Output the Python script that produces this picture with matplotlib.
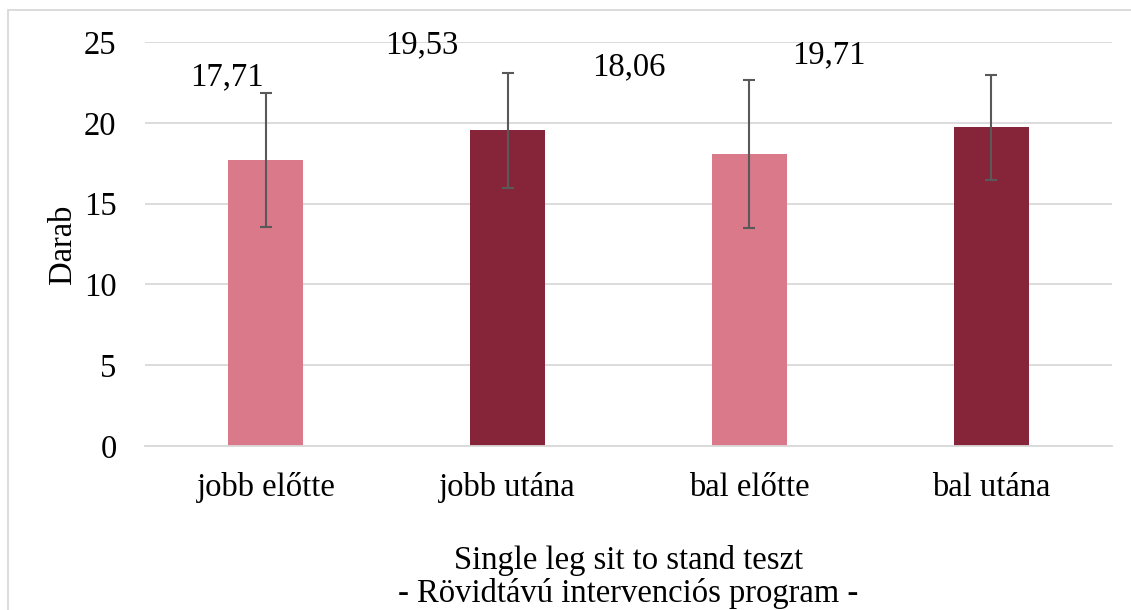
import matplotlib.pyplot as plt
from matplotlib.patches import Rectangle

categories = ["jobb előtte", "jobb utána", "bal előtte", "bal utána"]
values = [17.71, 19.53, 18.06, 19.71]
errors = [4.15, 3.55, 4.6, 3.25]
labels = ["17,71", "19,53", "18,06", "19,71"]
# manually placed value labels (x offset in category units, y in data units)
label_dx = [-0.16, -0.355, -0.5, -0.67]
label_y = [22.85, 24.8, 23.45, 24.2]
colors = ["#D9798A", "#86253A", "#D9798A", "#86253A"]

plt.rcParams['font.family'] = ['Liberation Serif', 'DejaVu Serif']
fs = 23.5

fig = plt.figure(figsize=(11.31, 6.10), dpi=100)
ax = fig.add_axes([145 / 1131, 1 - 446 / 610, 967 / 1131, 404 / 610])

x = range(len(categories))
ax.bar(x, values, width=0.31, color=colors, zorder=2)
ax.errorbar(x, values, yerr=errors, fmt='none', ecolor='#595959',
            elinewidth=1.5, capsize=4, capthick=1.5, zorder=3)

for i, t in enumerate(labels):
    ax.text(i + label_dx[i], label_y[i], t, ha='center', va='center', fontsize=fs)

ax.set_xlim(-0.5, 3.5)
ax.set_ylim(0, 25)
ax.set_yticks([0, 5, 10, 15, 20, 25])
ax.set_xticks(list(x))
ax.set_xticklabels(categories)
ax.yaxis.grid(True, color='#D9D9D9', linewidth=1.3, zorder=0)
ax.set_axisbelow(True)
for s in ['top', 'right', 'left']:
    ax.spines[s].set_visible(False)
ax.spines['bottom'].set_color('#D9D9D9')
ax.spines['bottom'].set_linewidth(1.3)
ax.tick_params(axis='both', length=0, labelsize=fs)
ax.tick_params(axis='x', pad=19)
ax.tick_params(axis='y', pad=20.5)

ax.set_ylabel("Darab", fontsize=fs, labelpad=4)
ax.set_xlabel("Single leg sit to stand teszt\n- Rövidtávú intervenciós program -",
              fontsize=fs, labelpad=30, linespacing=1.1)

fig.patches.append(Rectangle((8 / 1131, -0.1), 1.2, 1.1 - 10 / 610,
                             transform=fig.transFigure, fill=False,
                             edgecolor='#D9D9D9', linewidth=1.3))

fig.savefig("out.png", dpi=100)
